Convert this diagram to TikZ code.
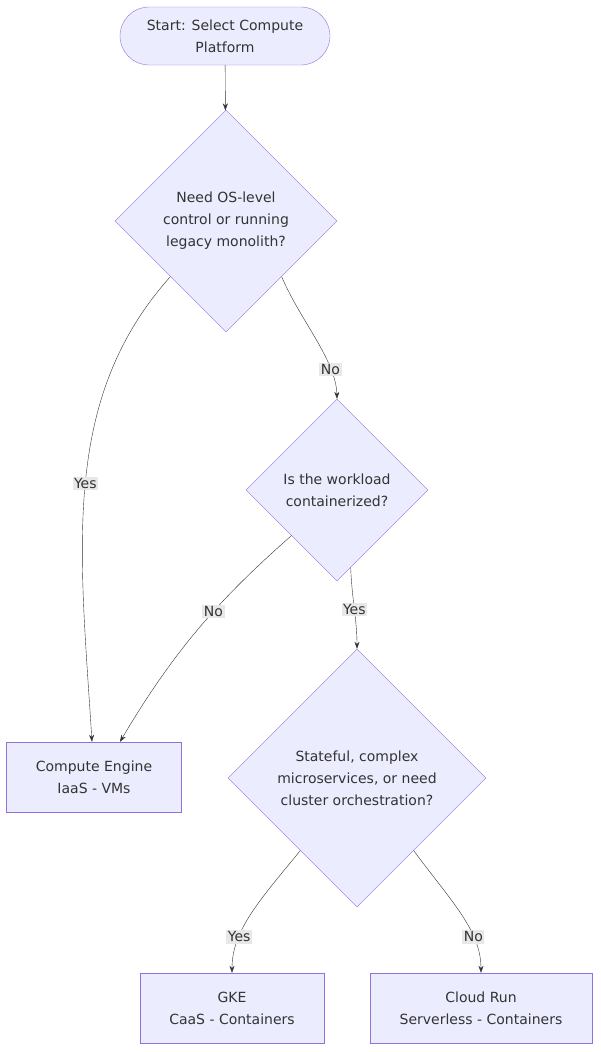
\documentclass[tikz,border=0pt]{standalone}
\usepackage{fontspec}
\setmainfont{DejaVu Sans}
\usetikzlibrary{shapes.geometric,arrows.meta}
\definecolor{nodefill}{HTML}{ECECFF}
\definecolor{nodeline}{HTML}{9370DB}
\definecolor{txt}{HTML}{333333}
\definecolor{lblbg}{HTML}{E8E8E8}
\tikzset{
  box/.style={draw=nodeline,fill=nodefill,text=txt,align=center,inner sep=0pt},
  decision/.style={box,diamond,aspect=1},
  conn/.style={draw=txt,-{Stealth[length=7pt,width=5pt]}},
  lbl/.style={fill=lblbg,text=txt,inner sep=1.5pt}
}
\begin{document}
\begin{tikzpicture}[x=1pt,y=-1pt,font=\fontsize{14}{22}\selectfont]
  \useasboundingbox (0,0) rectangle (600,1052);
  \node[box,rounded corners=29pt,minimum width=210pt,minimum height=58pt] (start) at (225,36) {Start: Select Compute\\Platform};
  \node[decision,minimum width=222pt,minimum height=222pt] (d1) at (226,221) {Need OS-level\\control or running\\legacy monolith?};
  \node[decision,minimum width=182pt,minimum height=182pt] (d2) at (337,490) {Is the workload\\containerized?};
  \node[box,minimum width=175pt,minimum height=70pt] (ce) at (94,777) {Compute Engine\\IaaS - VMs};
  \node[decision,minimum width=258pt,minimum height=258pt] (d3) at (357,778) {Stateful, complex\\microservices, or need\\cluster orchestration?};
  \node[box,minimum width=184pt,minimum height=70pt] (gke) at (232,1008) {GKE\\CaaS - Containers};
  \node[box,minimum width=222pt,minimum height=70pt] (cr) at (481,1008) {Cloud Run\\Serverless - Containers};

  \draw[conn] (start) -- (d1);
  \draw[conn] (d1.225) .. controls (60,400) and (80,550) .. node[lbl,pos=0.5] {Yes} ([xshift=-2pt]ce.north);
  \draw[conn] (d1.-45) .. controls (300,320) and (336,360) .. node[lbl,pos=0.75] {No} (d2.north);
  \draw[conn] (d2.225) .. controls (230,590) and (180,640) .. node[lbl,pos=0.45] {No} ([xshift=26pt]ce.north);
  \draw[conn] (d2.-80) .. controls (352,600) and (357,620) .. node[lbl,pos=0.5] {Yes} (d3.north);
  \draw[conn] (d3.232) .. controls (260,900) and (232,930) .. node[lbl,pos=0.7] {Yes} (gke.north);
  \draw[conn] (d3.-52) .. controls (450,900) and (481,930) .. node[lbl,pos=0.7] {No} (cr.north);
\end{tikzpicture}
\end{document}
